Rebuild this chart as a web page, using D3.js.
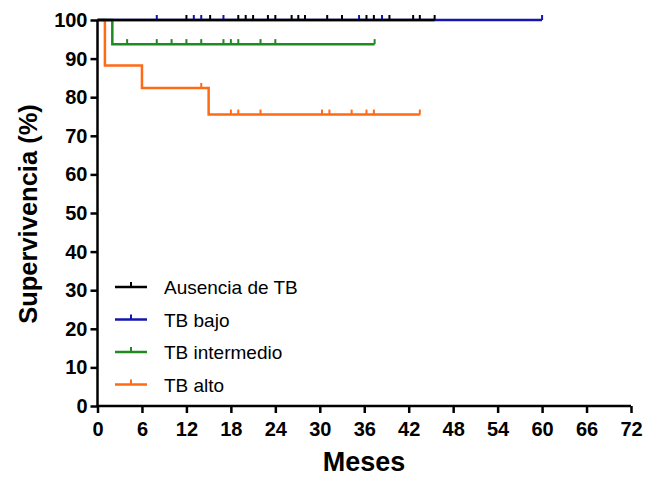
<!DOCTYPE html>
<html lang="es">
<head>
  <meta charset="UTF-8">
  <title>Supervivencia por TB</title>
  <script src="https://cdn.jsdelivr.net/npm/d3@7"></script>
</head>
<style>
body { margin: 0; background: white; }
text { font-family: "Liberation Sans", Arial, sans-serif; }
</style>
<body>
  <svg width="651" height="477"></svg>

  <script>
    // series, in legend order
    var seriesNames = ["Ausencia de TB", "TB bajo", "TB intermedio", "TB alto"];
    var seriesColors = ["#000000", "#1515b0", "#1f8a1f", "#ff6a14"];

    // step curve: times where survival changes and the value after the step
    var stepTimes = [[0], [0], [0, 2], [0, 1, 6, 15]];
    var stepSurv = [[100], [100], [100, 93.75], [100, 88.2, 82.4, 75.5]];
    var lastTime = [45.5, 60, 37.4, 43.5];

    // censored patients (tick marks)
    var censorTimes = [
      [12, 15.2, 19, 20, 21, 23, 24, 26.2, 27.1, 28, 31, 33, 36.3, 37.3, 39.4, 42.6, 43.5],
      [8, 13, 14, 17, 35.3, 38.4],
      [4, 8, 10, 12, 14, 17, 18, 19, 22, 24],
      [14, 18, 19, 22, 30.3, 31.3, 34.3, 36.3, 37.3]
    ];

    var xTicks = d3.range(0, 73, 6);
    var yTicks = d3.range(0, 101, 10);

    var x = d3.scaleLinear().domain([0, 72]).range([97.5, 631]);
    var y = d3.scaleLinear().domain([0, 100]).range([406, 20]);

    var svg = d3.select("svg");

    // survival value at time t for series i
    function survAt(i, t) {
      var s = stepSurv[i][0];
      stepTimes[i].forEach(function(tt, k) { if (tt <= t) s = stepSurv[i][k]; });
      return s;
    }

    var line = d3.line().x(d => x(d[0])).y(d => y(d[1])).curve(d3.curveStepAfter);

    // draw order: orange, green, blue, black on top
    [3, 2, 1, 0].forEach(function(i) {
      var pts = stepTimes[i].map((t, k) => [t, stepSurv[i][k]]);
      pts.push([lastTime[i], survAt(i, lastTime[i])]);
      var g = svg.append("g");
      g.append("path")
        .attr("d", line(pts))
        .attr("fill", "none")
        .attr("stroke", seriesColors[i])
        .attr("stroke-width", 2.5);
      g.selectAll("line")
        .data(censorTimes[i].concat([lastTime[i]]))
        .enter()
        .append("line")
        .attr("x1", d => x(d)).attr("x2", d => x(d))
        .attr("y1", d => y(survAt(i, d)))
        .attr("y2", d => y(survAt(i, d)) - 5)
        .attr("stroke", seriesColors[i])
        .attr("stroke-width", 2);
    });

    // axes
    var xAxis = svg.append("g")
      .attr("transform", "translate(0,406)")
      .call(d3.axisBottom(x).tickValues(xTicks).tickSize(7).tickPadding(9));
    var yAxis = svg.append("g")
      .attr("transform", "translate(97.5,0)")
      .call(d3.axisLeft(y).tickValues(yTicks).tickSize(7).tickPadding(3));

    [xAxis, yAxis].forEach(function(a) {
      a.select(".domain").attr("stroke", "#000").attr("stroke-width", 2.5);
      a.selectAll(".tick line").attr("stroke", "#000").attr("stroke-width", 2.5);
      a.selectAll(".tick text")
        .attr("fill", "#000")
        .style("font-family", "'Liberation Sans', Arial, sans-serif")
        .style("font-size", "20px")
        .style("font-weight", "bold");
    });
    xAxis.select(".domain").attr("d", "M" + x(0) + ",0H" + x(72));
    yAxis.select(".domain").attr("d", "M0," + y(0) + "V" + y(100));

    // axis titles
    svg.append("text")
      .attr("x", 364).attr("y", 471)
      .attr("text-anchor", "middle")
      .style("font-size", "27px").style("font-weight", "bold")
      .text("Meses");
    svg.append("text")
      .attr("transform", "translate(37,214) rotate(-90)")
      .attr("text-anchor", "middle")
      .style("font-size", "25.5px").style("font-weight", "bold")
      .text("Supervivencia (%)");

    // legend
    var legend = svg.append("g")
      .selectAll("g")
      .data(seriesNames)
      .enter()
      .append("g")
      .attr("transform", (d, i) => "translate(0," + (287 + i * 32.5) + ")");
    legend.append("line")
      .attr("x1", 115).attr("x2", 147)
      .attr("stroke", (d, i) => seriesColors[i]).attr("stroke-width", 2.5);
    legend.append("line")
      .attr("x1", 131).attr("x2", 131).attr("y1", 0).attr("y2", -5)
      .attr("stroke", (d, i) => seriesColors[i]).attr("stroke-width", 2);
    legend.append("text")
      .attr("x", 164).attr("y", 7)
      .style("font-size", "19px")
      .text(d => d);
  </script>
</body>
</html>
